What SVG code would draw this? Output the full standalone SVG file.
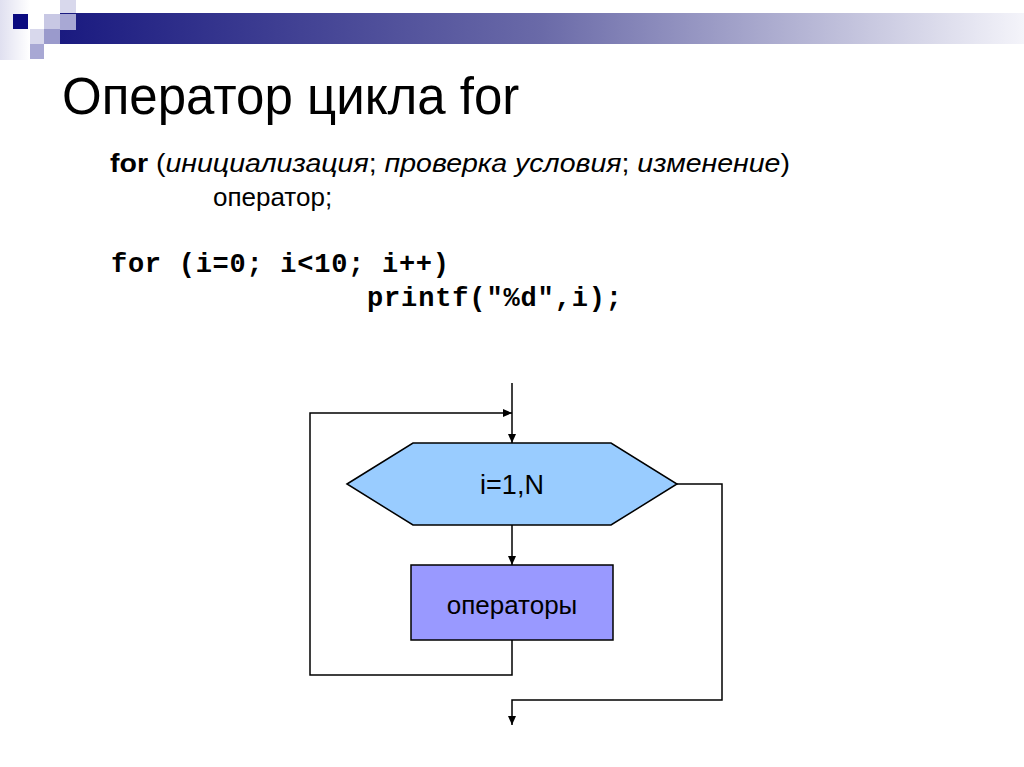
<svg xmlns="http://www.w3.org/2000/svg" width="1024" height="767" viewBox="0 0 1024 767">
<defs>
<linearGradient id="bar" x1="0" x2="1" y1="0" y2="0"><stop offset="0" stop-color="#1a1a80"/><stop offset="0.5" stop-color="#6a6aa8"/><stop offset="1" stop-color="#f4f4fa"/></linearGradient>
<linearGradient id="sq" x1="0" x2="1"><stop offset="0" stop-color="#e0e0f0"/><stop offset="1" stop-color="#ffffff"/></linearGradient>
<marker id="ah" markerWidth="10" markerHeight="10" refX="9" refY="5" orient="auto" markerUnits="userSpaceOnUse"><path d="M0,1 L9,5 L0,9 Z" fill="#000"/></marker>
</defs>
<style>
.t{font-family:"Liberation Sans",Arial,sans-serif;fill:#000}
.m{font-family:"Liberation Mono","Courier New",monospace;font-weight:bold;font-size:27px;fill:#000}
.c{stroke:#000;stroke-width:1.5;fill:none}
</style>
<rect width="1024" height="767" fill="#fff"/>
<g id="decor">
<rect x="0" y="0" width="30" height="60" fill="url(#sq)"/>
<rect x="60" y="0" width="16" height="14" fill="#d8d8ec"/>
<rect x="60" y="13" width="964" height="31" fill="url(#bar)"/>
<rect x="13" y="14" width="15" height="15" fill="#0a0a80"/>
<rect x="44" y="14" width="16" height="16" fill="#c8c8e4"/>
<rect x="60" y="14" width="16" height="16" fill="#a8a8d4"/>
<rect x="30" y="29" width="14" height="15" fill="#d8d8ec"/>
<rect x="44" y="29" width="16" height="15" fill="#9a9acc"/>
<rect x="30" y="44" width="14" height="15" fill="#a8a8d4"/>
</g>
<text class="t" x="62" y="114" font-size="51">Оператор цикла for</text>
<text class="t" x="110" y="172" font-size="26" textLength="680" lengthAdjust="spacingAndGlyphs"><tspan font-weight="bold">for</tspan> (<tspan font-style="italic">инициализация</tspan>; <tspan font-style="italic">проверка условия</tspan>; <tspan font-style="italic">изменение</tspan>)</text>
<text class="t" x="213" y="206" font-size="26">оператор;</text>
<text class="m" x="111" y="272" xml:space="preserve" textLength="338">for (i=0; i&lt;10; i++)</text>
<text class="m" x="367" y="306" textLength="255">printf("%d",i);</text>
<g id="connectors">
<path class="c" d="M512,383 V443" marker-end="url(#ah)"/>
<path class="c" d="M512,640 V675 H310 V413 H512" marker-end="url(#ah)"/>
<path class="c" d="M512,525 V565" marker-end="url(#ah)"/>
<path class="c" d="M677,484 H722 V700 H512 V725" marker-end="url(#ah)"/>
</g>
<g id="loop">
<polygon points="347,484 413,443 611,443 677,484 611,525 413,525" fill="#99ccff" stroke="#000" stroke-width="1.5"/>
<text class="t" x="512" y="494" font-size="27" text-anchor="middle">i=1,N</text>
</g>
<g id="ops">
<rect x="411" y="565" width="202" height="75" fill="#9999ff" stroke="#000" stroke-width="1.5"/>
<text class="t" x="512" y="614" font-size="26" text-anchor="middle">операторы</text>
</g>
</svg>
